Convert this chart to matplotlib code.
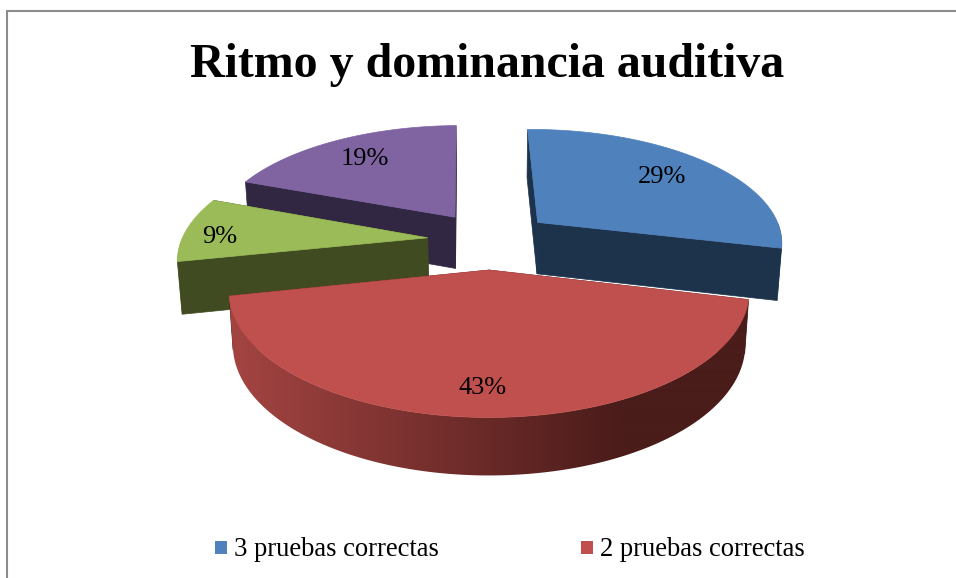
import numpy as np
import matplotlib
matplotlib.use("Agg")
import matplotlib.pyplot as plt
from matplotlib.colors import to_rgb
from matplotlib.patches import Polygon, Rectangle

W, H = 956, 578
TITLE = "Ritmo y dominancia auditiva"
values = [29, 43, 9, 19]
top_colors = ["#4F81BD", "#C0504D", "#9BBB59", "#8064A2"]
side_colors = ["#1D324B", "#4A1C1A", "#404B21", "#322742"]
legend_labels = ["3 pruebas correctas", "2 pruebas correctas"]
legend_colors = ["#4F81BD", "#C0504D"]

# projection of the pie
CX, CY, RX, RY, K, EXPLODE = 490, 240, 246, 113, 0.16, 0.255
DEPTH, DEPTH_PERSP, BOTTOM_SHRINK = 52, 0.46, 0.985
START_DEG = -1.0
plt.rcParams["font.family"] = ["Liberation Serif", "DejaVu Serif"]


def project(u, v, low=False):
    s = 1 / (1 - K * v)
    x = RX * u * s
    y = RY * v * s
    if low:
        return CX + x * BOTTOM_SHRINK, CY + y + DEPTH * (1 + DEPTH_PERSP * (s - 1))
    return CX + x, CY + y


def project_many(pts, low=False):
    return [project(u, v, low) for u, v in pts]


fig = plt.figure(figsize=(W / 100, H / 100), dpi=100)
ax = fig.add_axes([0, 0, 1, 1])
ax.axis("off")

# frame of the chart, cropped on the right and bottom
ax.plot([7.5, 7.5, W], [H, 10.5, 10.5], color="#8C8C8C", lw=1.5, solid_joinstyle="miter")

fractions = np.array(values) / sum(values)
edges = np.deg2rad(START_DEG + 360 * np.concatenate([[0], np.cumsum(fractions)]))

slices = []
for i in range(len(values)):
    a0, a1 = edges[i], edges[i + 1]
    mid = (a0 + a1) / 2
    off = (EXPLODE * np.sin(mid), -EXPLODE * np.cos(mid))
    arc = np.linspace(a0, a1, 200)
    rim = [(off[0] + np.sin(a), off[1] - np.cos(a)) for a in arc]
    slices.append(dict(off=off, rim=rim, mid=mid, arc=arc))

xs = np.arange(W)
z = 1
draw_order = [3, 0, 2, 1]  # back to front
for i in draw_order:
    sl = slices[i]
    off, rim, arc = sl["off"], sl["rim"], sl["arc"]
    side = side_colors[i]
    base = np.array(to_rgb(top_colors[i]))
    dark = np.array(to_rgb(side))

    def cut_face(end):
        pts = project_many([off, end]) + project_many([end, off], low=True)
        return Polygon(pts, closed=True, fc=side, ec=side, lw=0.5)

    starts_front = -np.sin(arc[0]) > 0
    ends_front = np.sin(arc[-1]) > 0
    for end, front in ((rim[0], starts_front), (rim[-1], ends_front)):
        if not front:
            p = cut_face(end)
            p.set_zorder(z)
            ax.add_patch(p)
            z += 1

    # curved wall: only the part facing the viewer, shaded left to right
    visible = [r for r, a in zip(rim, arc) if -np.cos(a) > 0]
    if len(visible) > 1:
        outline = project_many(visible) + project_many(visible[::-1], low=True)
        clip = Polygon(outline, closed=True, fc="none", ec="none", transform=ax.transData)
        ax.add_patch(clip)
        t = np.clip((xs - 225) / 395, 0, 1)[None, :, None]
        grad = (base * 0.86)[None, None, :] * (1 - t) + dark[None, None, :] * t
        im = ax.imshow(grad, extent=(0, W, H, 0), aspect="auto", zorder=z, interpolation="bilinear")
        im.set_clip_path(clip)
        z += 1

    for end, front in ((rim[0], starts_front), (rim[-1], ends_front)):
        if front:
            p = cut_face(end)
            p.set_zorder(z)
            ax.add_patch(p)
            z += 1

    ax.add_patch(Polygon(project_many([off] + rim), closed=True, fc=top_colors[i],
                         ec=top_colors[i], lw=0.5, zorder=z))
    z += 1

ax.set_xlim(0, W)
ax.set_ylim(H, 0)

# percentage labels along each slice's bisector
LABEL_R = [0.73, 0.83, 0.85, 0.74]
LABEL_TURN = [0, 0.7, -4, 0]
for i, sl in enumerate(slices):
    r = LABEL_R[i]
    a = sl["mid"] + np.deg2rad(LABEL_TURN[i])
    x, y = project(sl["off"][0] + r * np.sin(a), sl["off"][1] - r * np.cos(a))
    ax.text(x, y, f"{values[i]}%", fontsize=19, color="black", ha="center", va="center", zorder=z)

ax.text(487.5, 77, TITLE, fontsize=34.5, fontweight="bold", color="black",
        ha="center", va="baseline", zorder=z)

# legend
for lx, tx, label, color in zip([215, 581], [234, 600], legend_labels, legend_colors):
    ax.add_patch(Rectangle((lx, 541), 12, 13, fc=color, ec="none", zorder=z))
    ax.text(tx, 556, label, fontsize=19.2, color="black", ha="left", va="baseline", zorder=z)

fig.savefig("out.png", dpi=100)
